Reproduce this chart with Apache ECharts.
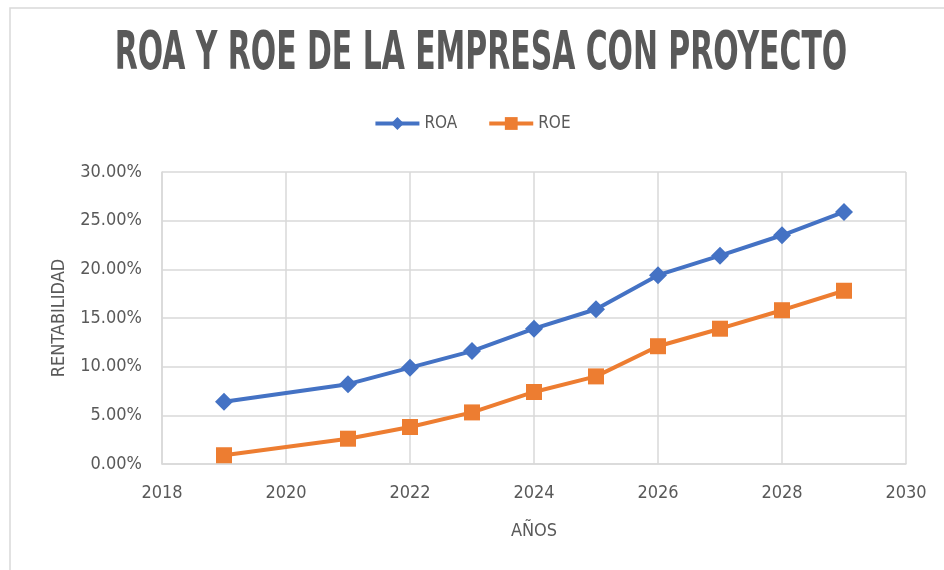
<!DOCTYPE html>
<html>
<head>
<meta charset="utf-8">
<script src="https://cdn.jsdelivr.net/npm/echarts@6/dist/echarts.min.js"></script>
<style>
  html, body { margin: 0; padding: 0; background: #fff; }
  #main { width: 944px; height: 570px; }
</style>
</head>
<body>
<div id="main"></div>
<script>
// datos
var years = [2019, 2021, 2022, 2023, 2024, 2025, 2026, 2027, 2028, 2029];
var roa = [6.4, 8.2, 9.9, 11.6, 13.9, 15.9, 19.4, 21.4, 23.5, 25.9];
var roe = [0.9, 2.6, 3.8, 5.3, 7.4, 9.0, 12.1, 13.9, 15.8, 17.8];

var FONT = "'DejaVu Sans Condensed', 'Liberation Sans Narrow', sans-serif";
var GRAY = '#595959';

function pairs(xs, ys) {
	var out = [];
	for (var i = 0; i < xs.length; i++) {
		out.push([xs[i], ys[i]]);
	}
	return out;
}

var myChart = echarts.init(document.getElementById('main'));
var option = {
	backgroundColor: '#fff',
	animation: false,
	graphic: [{
		type: 'rect',
		shape: { x: 10, y: 8, width: 960, height: 600 },
		style: { fill: 'none', stroke: '#d9d9d9', lineWidth: 1.5 },
		silent: true
	}, {
		type: 'text',
		x: 481,
		y: 55,
		scaleX: 0.83,
		scaleY: 1.35,
		style: {
			text: 'ROA Y ROE DE LA EMPRESA CON PROYECTO',
			fill: GRAY,
			font: "bold 40px " + FONT,
			align: 'center',
			verticalAlign: 'middle'
		}
	}],
	legend: {
		top: 110,
		left: 'center',
		itemWidth: 44,
		itemHeight: 16,
		itemGap: 30,
		lineStyle: { width: 4 },
		textStyle: { color: GRAY, fontFamily: FONT, fontSize: 17 },
		data: ['ROA', 'ROE']
	},
	grid: {
		left: 162,
		right: 38,
		top: 172,
		bottom: 106
	},
	xAxis: {
		type: 'value',
		min: 2018,
		max: 2030,
		interval: 2,
		name: 'AÑOS',
		nameLocation: 'middle',
		nameGap: 58,
		nameTextStyle: { color: GRAY, fontFamily: FONT, fontSize: 18 },
		axisLine: { lineStyle: { color: '#d9d9d9', width: 1.5 } },
		axisTick: { show: false },
		axisLabel: {
			color: GRAY, fontFamily: FONT, fontSize: 18, margin: 20,
			formatter: function(v) { return String(v); }
		},
		splitLine: { show: true, lineStyle: { color: '#d9d9d9', width: 1.5 } }
	},
	yAxis: {
		type: 'value',
		min: 0,
		max: 30,
		interval: 5,
		name: 'RENTABILIDAD',
		nameLocation: 'middle',
		nameGap: 94,
		nameRotate: 90,
		nameTextStyle: { color: GRAY, fontFamily: FONT, fontSize: 18 },
		axisLine: { show: true, lineStyle: { color: '#d9d9d9', width: 1.5 } },
		axisTick: { show: false },
		axisLabel: {
			color: GRAY, fontFamily: FONT, fontSize: 18, margin: 20,
			formatter: function(v) { return v.toFixed(2) + '%'; }
		},
		splitLine: { show: true, lineStyle: { color: '#d9d9d9', width: 1.5 } }
	},
	series: [{
		name: 'ROA',
		type: 'line',
		data: pairs(years, roa),
		symbol: 'diamond',
		symbolSize: 18,
		itemStyle: { color: '#4472C4' },
		lineStyle: { color: '#4472C4', width: 4 }
	}, {
		name: 'ROE',
		type: 'line',
		data: pairs(years, roe),
		symbol: 'rect',
		symbolSize: 16,
		itemStyle: { color: '#ED7D31' },
		lineStyle: { color: '#ED7D31', width: 4 }
	}]
};
myChart.setOption(option);
</script>
</body>
</html>
